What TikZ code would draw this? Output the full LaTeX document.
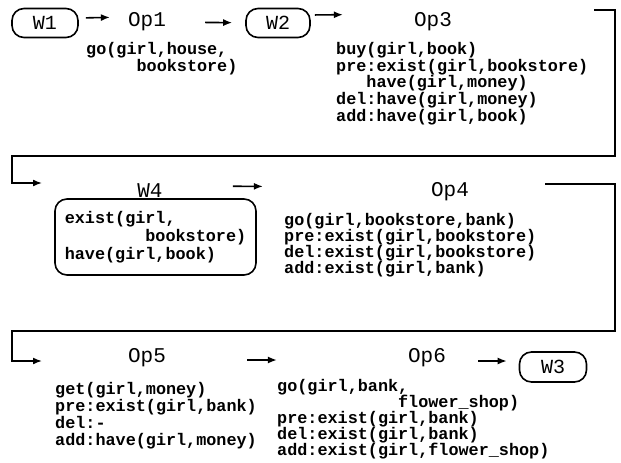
\documentclass[tikz,border=0pt]{standalone}
\usepackage{fontspec}
\newfontfamily\codefont{Liberation Mono}
\usetikzlibrary{arrows.meta}

\begin{document}
\begin{tikzpicture}[x=1pt,y=-1pt,
    title/.style={font=\codefont\fontsize{21}{21}\selectfont, inner sep=0pt},
    world/.style={draw, line width=1.6pt, rounded corners=12pt, inner sep=0pt,
      minimum width=66pt, minimum height=29pt, font=\codefont\fontsize{20}{20}\selectfont},
    ops/.style={font={\codefont\bfseries\fontsize{16.8}{#1}\selectfont\lineskiplimit-20pt\relax},
      align=left, anchor=north west, inner sep=0pt},
    ops/.default=16.7,
    link/.style={line width=1.6pt, -{Latex[length=9pt,width=7pt]}}]
  \useasboundingbox (0,0) rectangle (621,463);

  % first row
  \node[world] (w1) at (45,23) {W1};
  \node[title] (op1) at (147,22) {Op1};
  \node[world, minimum width=64pt] (w2) at (278,23) {W2};
  \node[title] (op3) at (433,22) {Op3};
  \node[ops] (op1txt) at (86,42) {go(girl,house,\\\hspace*{3em}bookstore)};
  \node[ops] (op3txt) at (336,42) {buy(girl,book)\\pre:exist(girl,bookstore)\\
    \hspace*{1.8em}have(girl,money)\\del:have(girl,money)\\add:have(girl,book)};

  \draw[link, shorten <=7pt, shorten >=18pt] ([yshift=5pt]w1.east) -- ([yshift=5pt]op1.west);
  \draw[link, shorten <=39pt, shorten >=13pt] (op1) -- (w2);
  \draw[link, shorten <=4pt, shorten >=71pt] ([yshift=8pt]w2.east) -- ([yshift=8pt]op3.west);

  \coordinate (r1) at (594,10);
  \coordinate (r2) at (42,183);
  \draw[link] (r1) -- (615,10) -- (615,156) -- (12,156) |- (r2);

  % second row
  \node[title] (w4) at (150,191) {W4};
  \node[draw, line width=1.6pt, rounded corners=12pt, minimum width=201pt, minimum height=76pt,
    inner sep=0pt, font=\codefont\bfseries\fontsize{16.8}{18.3}\selectfont, align=left]
    (w4box) at (155.5,237) {exist(girl,\\\hspace*{4.8em}bookstore)\\have(girl,book)};
  \node[title] (op4) at (450,192) {Op4};
  \node[ops=16] (op4txt) at (284,213) {go(girl,bookstore,bank)\\pre:exist(girl,bookstore)\\
    del:exist(girl,bookstore)\\add:exist(girl,bank)};

  \draw[link, shorten <=70pt, shorten >=168pt] ([yshift=5pt]w4.east) -- ([yshift=5pt]op4.west);

  \coordinate (r3) at (545,184);
  \coordinate (r4) at (42,361);
  \draw[link] (r3) -- (615,184) -- (615,331) -- (12,331) |- (r4);

  % third row
  \node[title] (op5) at (147,358) {Op5};
  \node[title] (op6) at (427,358) {Op6};
  \node[world, minimum width=67pt, minimum height=30pt] (w3) at (553,367) {W3};
  \node[ops=17] (op5txt) at (55,382) {get(girl,money)\\pre:exist(girl,bank)\\del:-\\
    add:have(girl,money)};
  \node[ops=16] (op6txt) at (277,379) {go(girl,bank,\\\hspace*{7.2em}flower\_shop)\\
    pre:exist(girl,bank)\\del:exist(girl,bank)\\add:exist(girl,flower\_shop)};

  \draw[link, shorten <=81pt, shorten >=131pt] ([yshift=-2pt]op5.east) -- ([yshift=-2pt]op6.west);
  \draw[link, shorten <=32pt, shorten >=12pt] ([yshift=-3pt]op6.east) -- ([yshift=6pt]w3.west);
\end{tikzpicture}
\end{document}
